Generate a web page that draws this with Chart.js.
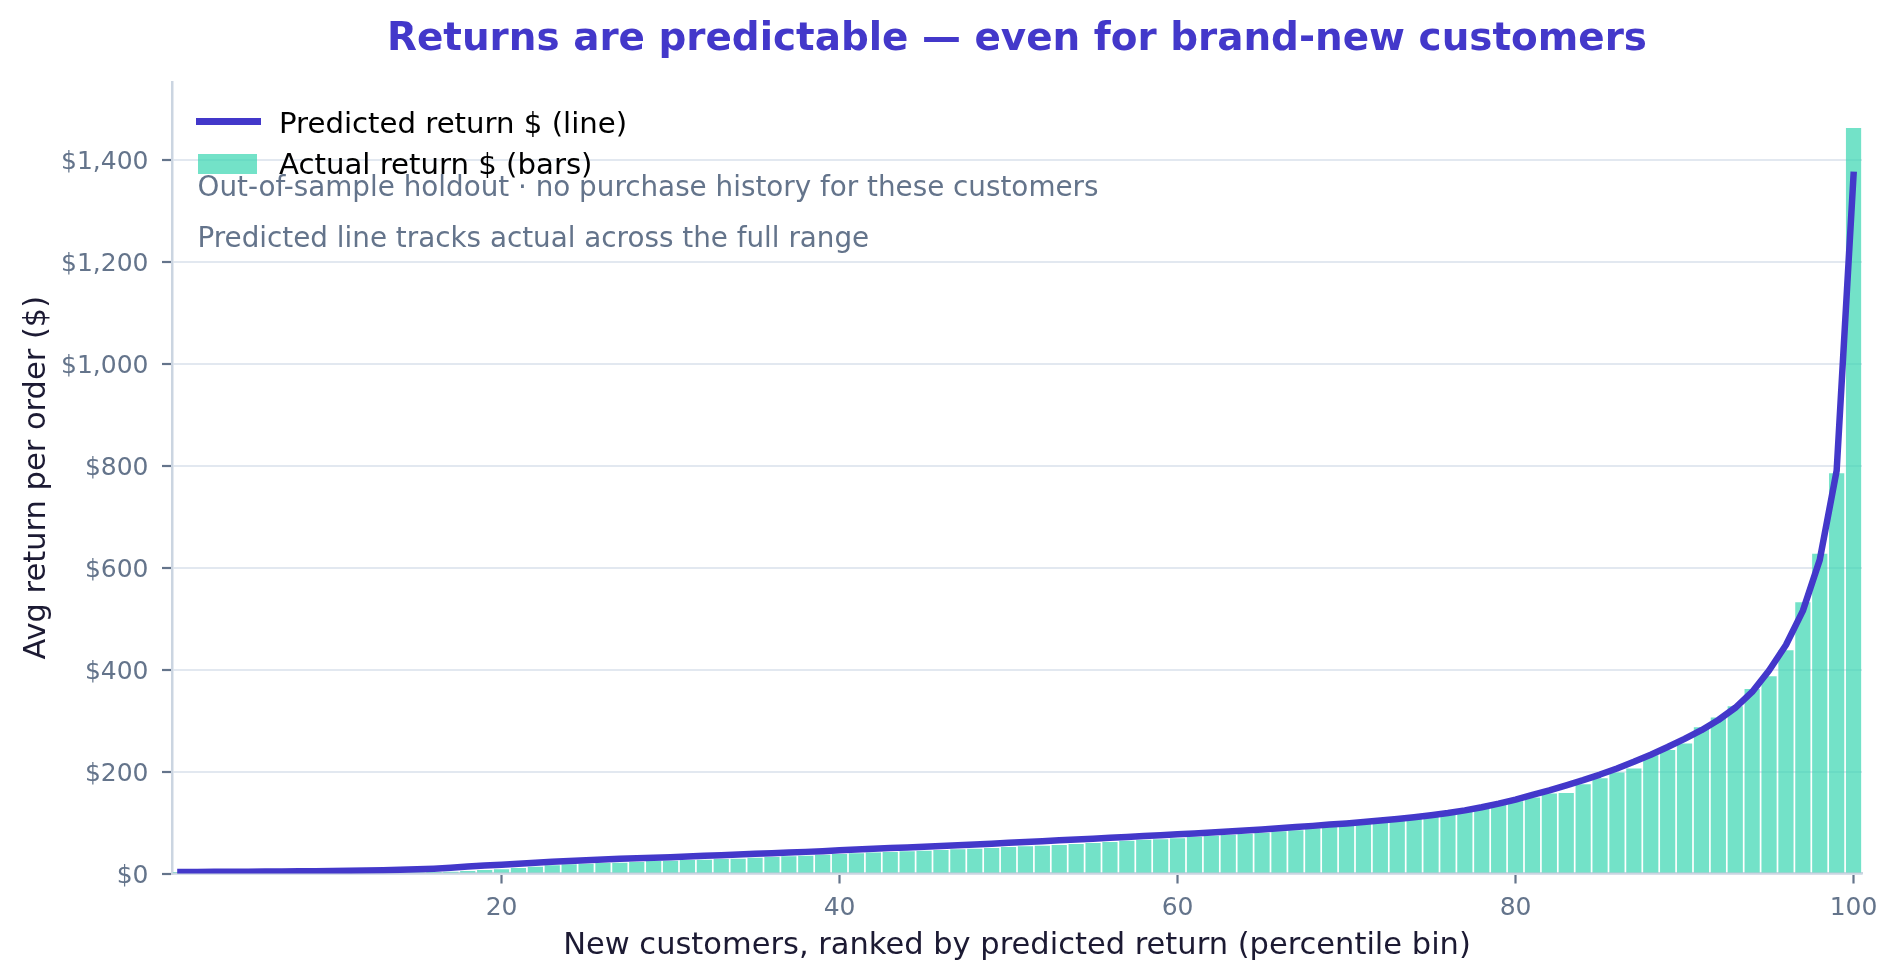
<!DOCTYPE html>
<html>
<head>
<meta charset="utf-8">
<script src="https://cdn.jsdelivr.net/npm/chart.js@4.4.1/dist/chart.umd.min.js"></script>
<style>
  html, body { margin: 0; padding: 0; background: #ffffff; }
  #wrap { width: 1898px; height: 980px; position: relative; }
  canvas { display: block; }
</style>
</head>
<body>
<div id="wrap"><canvas id="c" width="1898" height="980"></canvas></div>
<script>
// ---------- DATA ----------
const categories = Array.from({ length: 100 }, (_, i) => String(i + 1)); // percentile bins 1..100
const xTickLabels = ['20', '40', '60', '80', '100'];
const yTickValues = [0, 200, 400, 600, 800, 1000, 1200, 1400];

const predictedReturn = [
  3.0, 3.1, 3.2, 3.4, 3.6, 3.8, 4.0, 4.3, 4.6, 5.0,
  5.4, 6.0, 6.6, 7.3, 8.2, 9.5, 11.5, 13.5, 15.5, 17.0,
  19.0, 21.0, 23.0, 24.7, 26.2, 27.6, 28.8, 30.0, 31.0, 32.0,
  33.3, 34.6, 35.9, 37.2, 38.5, 39.8, 41.1, 42.4, 43.7, 45.5,
  47.0, 48.4, 49.8, 51.2, 52.6, 54.0, 55.4, 56.9, 58.5, 60.2,
  61.8, 63.4, 65.0, 66.6, 68.2, 69.9, 71.6, 73.3, 75.0, 76.8,
  78.6, 80.5, 82.4, 84.4, 86.5, 88.7, 91.0, 93.4, 95.9, 98.0,
  100.8, 103.8, 107.0, 110.5, 114.3, 118.6, 123.8, 130.0, 137.0, 145.0,
  154.0, 163.0, 173.0, 183.0, 194.0, 206.0, 219.0, 233.0, 248.0, 264.0,
  281.0, 301.0, 325.0, 356.0, 398.0, 448.0, 515.0, 615.0, 790.0, 1370.0
];

const actualReturn = [
  0.8, 0.9, 1.0, 1.0, 1.1, 1.2, 1.2, 1.3, 1.4, 1.5,
  1.6, 1.8, 2.0, 2.2, 2.5, 3.0, 3.5, 5.0, 7.0, 8.5,
  11.0, 13.0, 16.0, 18.0, 19.0, 20.6, 21.0, 22.5, 24.5, 25.0,
  26.5, 27.0, 28.4, 29.0, 31.0, 32.4, 34.0, 35.0, 37.0, 38.0,
  39.5, 41.0, 42.0, 43.5, 44.8, 46.0, 47.4, 48.7, 50.0, 52.0,
  53.3, 54.5, 56.0, 58.0, 60.0, 62.0, 64.0, 66.0, 67.0, 69.0,
  72.0, 74.0, 76.0, 78.0, 80.0, 82.7, 85.0, 88.6, 92.0, 94.5,
  97.7, 101.6, 105.0, 109.0, 114.0, 120.0, 124.0, 127.0, 136.0, 141.5,
  149.0, 157.0, 158.0, 175.0, 187.0, 198.0, 206.0, 232.0, 242.0, 255.0,
  287.0, 306.0, 328.0, 362.0, 387.0, 438.0, 532.0, 627.0, 785.0, 1462.0
];

const titleText = 'Returns are predictable \u2014 even for brand-new customers';
const xTitleText = 'New customers, ranked by predicted return (percentile bin)';
const yTitleText = 'Avg return per order ($)';
const legendLine = 'Predicted return $ (line)';
const legendBars = 'Actual return $ (bars)';
const note1 = 'Out-of-sample holdout \u00b7 no purchase history for these customers';
const note2 = 'Predicted line tracks actual across the full range';

// ---------- STYLE ----------
const FONT = '"DejaVu Sans", "Liberation Sans", sans-serif';
const LINE_COLOR = '#4338ca';
const BAR_COLOR = 'rgba(55, 214, 176, 0.70)';
const GRID_COLOR = '#e2e8f0';
const SPINE_COLOR = '#cbd5e1';
const TICK_COLOR = '#64748b';
const LABEL_COLOR = '#1c1a33';

const overlay = {
  id: 'overlay',
  afterDraw(chart) {
    const { ctx, chartArea: a } = chart;
    const cx = (a.left + a.right) / 2;
    ctx.save();
    // title
    ctx.font = 'bold 38.9px ' + FONT;
    ctx.fillStyle = LINE_COLOR;
    ctx.textAlign = 'center';
    ctx.textBaseline = 'alphabetic';
    ctx.fillText(titleText, cx, 50);
    // x axis title
    ctx.font = '30.5px ' + FONT;
    ctx.fillStyle = LABEL_COLOR;
    ctx.fillText(xTitleText, cx, 954);
    // y axis title
    ctx.save();
    ctx.translate(45, (a.top + a.bottom) / 2);
    ctx.rotate(-Math.PI / 2);
    ctx.fillText(yTitleText, 0, 0);
    ctx.restore();
    // annotations
    ctx.textAlign = 'left';
    ctx.font = '27.8px ' + FONT;
    ctx.fillStyle = TICK_COLOR;
    ctx.fillText(note1, 197.5, 196);
    ctx.fillText(note2, 197.5, 246.5);
    // legend
    ctx.strokeStyle = LINE_COLOR;
    ctx.lineWidth = 7;
    ctx.lineCap = 'butt';
    ctx.beginPath();
    ctx.moveTo(196, 121.5);
    ctx.lineTo(261, 121.5);
    ctx.stroke();
    ctx.fillStyle = BAR_COLOR;
    ctx.fillRect(198, 154, 59, 20);
    ctx.font = '29.2px ' + FONT;
    ctx.fillStyle = '#000000';
    ctx.fillText(legendLine, 279, 133);
    ctx.fillText(legendBars, 279, 174);
    ctx.restore();
  }
};

Chart.defaults.font.family = FONT;
Chart.defaults.animation = false;

new Chart(document.getElementById('c'), {
  type: 'bar',
  data: {
    labels: categories,
    datasets: [
      {
        type: 'line',
        label: legendLine,
        data: predictedReturn,
        borderColor: LINE_COLOR,
        borderWidth: 6.5,
        pointRadius: 0,
        tension: 0,
        borderJoinStyle: 'round',
        borderCapStyle: 'square',
        order: 0
      },
      {
        type: 'bar',
        label: legendBars,
        data: actualReturn,
        backgroundColor: BAR_COLOR,
        borderWidth: 0,
        barPercentage: 0.9,
        categoryPercentage: 1.0,
        order: 1
      }
    ]
  },
  options: {
    responsive: false,
    maintainAspectRatio: false,
    layout: { padding: { top: 82, right: 36, left: 0, bottom: 0 } },
    plugins: {
      legend: { display: false },
      title: { display: false },
      tooltip: { enabled: false }
    },
    scales: {
      x: {
        type: 'category',
        offset: true,
        border: { display: true, color: SPINE_COLOR, width: 2.5 },
        grid: {
          display: true,
          offset: false,
          drawOnChartArea: false,
          drawTicks: true,
          tickLength: 10,
          tickWidth: 2.2,
          tickColor: (c) => (xTickLabels.includes(categories[c.index]) ? TICK_COLOR : 'rgba(0,0,0,0)')
        },
        ticks: {
          autoSkip: false,
          maxRotation: 0,
          minRotation: 0,
          padding: 10,
          color: TICK_COLOR,
          font: { size: 25 },
          callback: (v, i) => (xTickLabels.includes(categories[i]) ? categories[i] : '')
        },
        afterFit: (s) => { s.height = 106.5; }
      },
      y: {
        type: 'linear',
        min: 0,
        max: 1552,
        border: { display: true, color: SPINE_COLOR, width: 2.5 },
        grid: {
          color: GRID_COLOR,
          lineWidth: 2,
          drawTicks: true,
          tickLength: 10,
          tickWidth: 2.2,
          tickColor: TICK_COLOR
        },
        afterBuildTicks: (s) => { s.ticks = yTickValues.map((v) => ({ value: v })); },
        ticks: {
          padding: 13.5,
          labelOffset: 2.5,
          color: TICK_COLOR,
          font: { size: 25 },
          callback: (v) => '$' + Number(v).toLocaleString('en-US')
        },
        afterFit: (s) => { s.width = 172; }
      }
    }
  },
  plugins: [overlay]
});
</script>
</body>
</html>
